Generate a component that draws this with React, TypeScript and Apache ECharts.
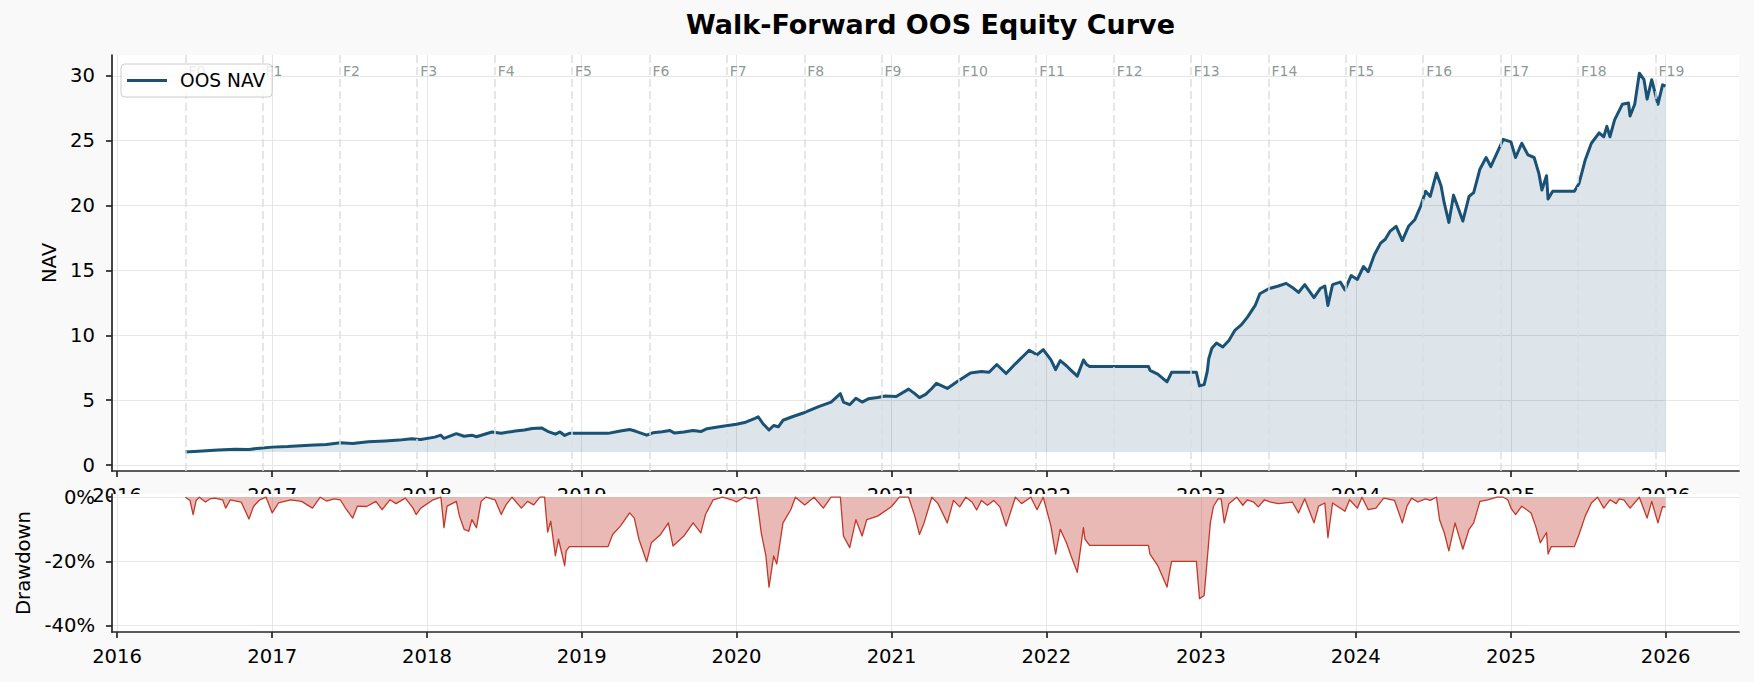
import React, { useEffect, useRef } from "react";
import * as echarts from "echarts";

// ---------------- DATA ----------------
// NAV curve: time in decimal years, value in NAV units
const navYears = [
  2016.44, 2016.55, 2016.65, 2016.76, 2016.85, 2016.92, 2017.0, 2017.1, 2017.24, 2017.35,
  2017.44, 2017.52, 2017.62, 2017.73, 2017.82, 2017.9, 2017.96, 2018.05, 2018.09, 2018.11,
  2018.19, 2018.24, 2018.29, 2018.32, 2018.42, 2018.48, 2018.57, 2018.63, 2018.68, 2018.74,
  2018.78, 2018.83, 2018.86, 2018.89, 2018.92, 2019.17, 2019.25, 2019.31, 2019.35, 2019.42,
  2019.46, 2019.52, 2019.57, 2019.6, 2019.66, 2019.72, 2019.77, 2019.81, 2019.89, 2020.0,
  2020.06, 2020.12, 2020.14, 2020.17, 2020.21, 2020.24, 2020.27, 2020.3, 2020.36, 2020.44,
  2020.53, 2020.61, 2020.67, 2020.69, 2020.73, 2020.77, 2020.81, 2020.85, 2020.91, 2020.96,
  2021.03, 2021.11, 2021.15, 2021.18, 2021.22, 2021.26, 2021.29, 2021.36, 2021.42, 2021.51,
  2021.58, 2021.63, 2021.68, 2021.74, 2021.8, 2021.86, 2021.89, 2021.94, 2021.98, 2022.03,
  2022.06, 2022.09, 2022.13, 2022.16, 2022.2, 2022.24, 2022.26, 2022.28, 2022.66, 2022.67,
  2022.72, 2022.78, 2022.8, 2022.81, 2022.97, 2022.99, 2023.02, 2023.04, 2023.05, 2023.07,
  2023.1, 2023.14, 2023.18, 2023.22, 2023.26, 2023.3, 2023.35, 2023.38, 2023.44, 2023.5,
  2023.55, 2023.6, 2023.63, 2023.67, 2023.73, 2023.77, 2023.8, 2023.82, 2023.85, 2023.9,
  2023.93, 2023.97, 2024.01, 2024.05, 2024.08, 2024.12, 2024.16, 2024.19, 2024.22, 2024.26,
  2024.3, 2024.34, 2024.38, 2024.42, 2024.45, 2024.48, 2024.52, 2024.55, 2024.57, 2024.6,
  2024.63, 2024.66, 2024.69, 2024.73, 2024.76, 2024.8, 2024.84, 2024.87, 2024.92, 2024.95,
  2025.0, 2025.03, 2025.07, 2025.11, 2025.15, 2025.18, 2025.2, 2025.23, 2025.24, 2025.27,
  2025.41, 2025.44, 2025.48, 2025.52, 2025.57, 2025.6, 2025.62, 2025.64, 2025.67, 2025.72,
  2025.76, 2025.77, 2025.8, 2025.83, 2025.86, 2025.88, 2025.91, 2025.95, 2025.98, 2025.999,
];
const navValues = [
  1.0, 1.08, 1.15, 1.22, 1.2, 1.3, 1.38, 1.42, 1.52, 1.58,
  1.72, 1.66, 1.8, 1.86, 1.92, 2.02, 1.96, 2.15, 2.3, 2.05,
  2.42, 2.22, 2.3, 2.18, 2.55, 2.45, 2.62, 2.7, 2.82, 2.86,
  2.6, 2.38, 2.55, 2.28, 2.44, 2.44, 2.62, 2.74, 2.6, 2.3,
  2.48, 2.56, 2.66, 2.46, 2.55, 2.66, 2.58, 2.8, 2.95, 3.15,
  3.3, 3.6, 3.72, 3.2, 2.7, 3.05, 2.95, 3.45, 3.72, 4.05,
  4.5, 4.85, 5.5, 4.85, 4.65, 5.15, 4.85, 5.1, 5.2, 5.32,
  5.28, 5.85, 5.5, 5.2, 5.45, 5.9, 6.3, 5.9, 6.4, 7.1,
  7.2, 7.15, 7.75, 7.05, 7.8, 8.5, 8.85, 8.5, 8.9, 8.1,
  7.35, 8.05, 7.65, 7.3, 6.85, 8.1, 7.75, 7.6, 7.6, 7.3,
  7.0, 6.41, 6.9, 7.15, 7.15, 6.1, 6.2, 7.2, 8.2, 9.0,
  9.4, 9.1, 9.6, 10.4, 10.8, 11.4, 12.3, 13.2, 13.6, 13.8,
  14.0, 13.6, 13.3, 13.9, 12.9, 13.6, 13.8, 12.3, 13.9, 14.1,
  13.5, 14.6, 14.3, 15.3, 14.9, 16.2, 17.1, 17.4, 18.0, 18.4,
  17.3, 18.4, 18.9, 20.0, 21.1, 20.7, 22.5, 21.5, 20.2, 18.7,
  20.8, 19.8, 18.8, 20.7, 21.0, 22.8, 23.7, 23.0, 24.3, 25.1,
  24.9, 23.7, 24.8, 23.9, 23.7, 22.5, 21.2, 22.3, 20.5, 21.1,
  21.1, 21.7, 23.5, 24.8, 25.6, 25.3, 26.1, 25.3, 26.6, 27.8,
  27.9, 26.9, 27.8, 30.2, 29.7, 28.2, 29.7, 27.8, 29.3, 29.2,
];

// Drawdown curve: time in decimal years, value in percent
const ddYears = [
  2016.44, 2016.47, 2016.49, 2016.51, 2016.53, 2016.57, 2016.6, 2016.63, 2016.68, 2016.7,
  2016.73, 2016.8, 2016.85, 2016.88, 2016.92, 2016.96, 2017.0, 2017.04, 2017.12, 2017.19,
  2017.26, 2017.31, 2017.35, 2017.4, 2017.44, 2017.48, 2017.52, 2017.55, 2017.61, 2017.67,
  2017.71, 2017.76, 2017.8, 2017.86, 2017.91, 2017.93, 2017.96, 2018.04, 2018.09, 2018.11,
  2018.13, 2018.19, 2018.21, 2018.24, 2018.27, 2018.29, 2018.32, 2018.35, 2018.38, 2018.44,
  2018.48, 2018.51, 2018.55, 2018.61, 2018.65, 2018.69, 2018.73, 2018.76, 2018.78, 2018.8,
  2018.83, 2018.85, 2018.89, 2018.9, 2018.92, 2019.17, 2019.2, 2019.25, 2019.31, 2019.34,
  2019.37, 2019.42, 2019.45, 2019.51, 2019.56, 2019.59, 2019.66, 2019.72, 2019.77, 2019.8,
  2019.85, 2019.91, 2019.97, 2020.0, 2020.05, 2020.09, 2020.13, 2020.16, 2020.19, 2020.21,
  2020.24, 2020.26, 2020.3, 2020.35, 2020.38, 2020.44, 2020.5, 2020.56, 2020.61, 2020.67,
  2020.69, 2020.73, 2020.77, 2020.81, 2020.84, 2020.91, 2021.0, 2021.05, 2021.11, 2021.15,
  2021.18, 2021.21, 2021.26, 2021.3, 2021.36, 2021.4, 2021.44, 2021.48, 2021.52, 2021.55,
  2021.58, 2021.62, 2021.66, 2021.7, 2021.74, 2021.8, 2021.84, 2021.9, 2021.94, 2021.98,
  2022.03, 2022.06, 2022.09, 2022.13, 2022.16, 2022.2, 2022.24, 2022.25, 2022.28, 2022.66,
  2022.67, 2022.72, 2022.78, 2022.8, 2022.81, 2022.97, 2022.99, 2023.02, 2023.04, 2023.06,
  2023.08, 2023.11, 2023.13, 2023.15, 2023.18, 2023.23, 2023.27, 2023.3, 2023.34, 2023.37,
  2023.41, 2023.45, 2023.5, 2023.59, 2023.63, 2023.67, 2023.73, 2023.76, 2023.8, 2023.82,
  2023.85, 2023.93, 2023.96, 2024.01, 2024.04, 2024.08, 2024.13, 2024.18, 2024.25, 2024.3,
  2024.33, 2024.36, 2024.4, 2024.45, 2024.48, 2024.52, 2024.54, 2024.57, 2024.6, 2024.64,
  2024.69, 2024.73, 2024.76, 2024.8, 2024.85, 2024.91, 2024.95, 2024.98, 2025.0, 2025.03,
  2025.07, 2025.13, 2025.16, 2025.19, 2025.23, 2025.24, 2025.26, 2025.41, 2025.44, 2025.48,
  2025.52, 2025.56, 2025.6, 2025.64, 2025.68, 2025.7, 2025.73, 2025.77, 2025.83, 2025.88,
  2025.91, 2025.95, 2025.98, 2025.999,
];
const ddValues = [
  0, -1, -5.4, -1, 0, -1.5, -0.5, -0.3, -0.8, -3.4,
  -0.8, -1.5, -6.8, -2.8, -0.8, 0, -4.9, -1.8, -0.8, -1.3,
  -3.4, 0, -1.2, -0.5, -0.8, -3.9, -6.5, -2.8, -2.9, -1.3,
  -3.9, -0.8, -2.0, -0.3, -3.4, -5.4, -3.4, -0.8, 0, -9.5,
  -2.8, -1.3, -5.9, -10, -10.6, -7, -9.5, -1.3, 0, -0.8,
  -5.4, -2.4, 0, -3.4, -1.3, -2.4, 0, 0, -10.9, -7.5,
  -18.3, -13.1, -21.3, -16.7, -15.4, -15.4, -11.6, -9.0, -4.9, -6.5,
  -13.1, -20.1, -14.2, -11.6, -8.0, -15.2, -12.1, -8.0, -11.1, -5.4,
  -0.8, 0, -0.8, -1.5, 0, -0.5, 0, -11.1, -18.3, -28,
  -18.3, -20.8, -8.0, -3.9, 0, -2.4, 0, -3.4, 0, 0,
  -12.1, -15.7, -7.0, -12.1, -7.0, -5.9, -2.9, 0, 0, -5.9,
  -11.6, -8, 0, -2, -8, -1, -3, 0, -1.5, -4,
  -1, -2.5, -1, -3, -9, 0, -2, 0, -3.9, 0,
  -9, -17.7, -10, -14.2, -18.3, -23.4, -9.5, -13.1, -15, -15,
  -17.7, -21.3, -28, -22.4, -20, -20, -31.6, -30.6, -19.3, -8,
  -2.9, -0.5, -0.5, -8, -2, 0, -2.5, -0.8, -1.5, -3,
  -0.8, -1.5, -2, -1.5, -4.9, -0.5, -8, -2.8, -1.8, -12.6,
  -1.8, -4.4, -0.8, -3.4, 0, -3.9, -3.4, -0.3, -1, -8,
  -2.8, -0.3, -1.5, -0.5, -1, 0, -7, -11, -16.7, -8,
  -16.2, -10, -8, -1.3, -0.8, 0, 0, -0.8, -3.4, -5.4,
  -2.8, -4.9, -9, -14.2, -11, -17.7, -15.4, -15.4, -11.6, -5.9,
  -1.8, 0, -3.4, -0.8, -2, -0.5, -0.8, -3.4, 0, -6.5,
  -1.3, -8, -2.9, -3.1,
];

// Walk-forward fold start dates and their labels
const foldDates = [
  "2016-06-10", "2016-12-09", "2017-06-10", "2017-12-09", "2018-06-10",
  "2018-12-09", "2019-06-10", "2019-12-09", "2020-06-09", "2020-12-08",
  "2021-06-09", "2021-12-08", "2022-06-09", "2022-12-08", "2023-06-09",
  "2023-12-08", "2024-06-08", "2024-12-07", "2025-06-08", "2025-12-08",
];
const foldLabels = [
  "F0", "F1", "F2", "F3", "F4", "F5", "F6", "F7", "F8", "F9",
  "F10", "F11", "F12", "F13", "F14", "F15", "F16", "F17", "F18", "F19",
];

// Tick labels
const yearTicks = [2016, 2017, 2018, 2019, 2020, 2021, 2022, 2023, 2024, 2025, 2026];
const navTicks = [0, 5, 10, 15, 20, 25, 30];
const ddTicks = [-40, -20, 0];

const TITLE = "Walk-Forward OOS Equity Curve";
const SERIES_NAME = "OOS NAV";

// ---------------- HELPERS ----------------
const decYearToTs = (d: number) => {
  const y = Math.floor(d);
  const a = Date.UTC(y, 0, 1);
  const b = Date.UTC(y + 1, 0, 1);
  return a + (d - y) * (b - a);
};
const dateToTs = (s: string) => Date.parse(s + "T00:00:00Z");

const FONT = "DejaVu Sans";
const W = 1754;
const H = 682;
const LEFT = 112;
const PLOT_W = 1627;
const TOP1 = 55;
const H1 = 416;
const TOP2 = 494;
const H2 = 138;
const X_MIN = Date.UTC(2015, 11, 20);
const X_MAX = Date.UTC(2026, 5, 23);
const FILL_BASE = 1;
const FOLD_LABEL_Y = 30.4;

export default function App() {
  const ref = useRef<HTMLDivElement | null>(null);

  useEffect(() => {
    if (!ref.current) return;
    const chart = echarts.init(ref.current, null, { renderer: "svg" });

    const yearTs = yearTicks.map((y) => Date.UTC(y, 0, 1));
    const foldTs = foldDates.map(dateToTs);
    const navData = navYears.map((y, i) => [decYearToTs(y), navValues[i]]);
    const ddData = ddYears.map((y, i) => [decYearToTs(y), ddValues[i]]);

    const spine = { color: "#262626", width: 1.7 };
    const labelFont = { fontFamily: FONT, fontSize: 19.6, color: "#000" };
    const gridLine = { show: true, lineStyle: { color: "#e6e6e6", width: 1 } };

    const xAxisOf = (gridIndex: number, z: number) => ({
      type: "value",
      gridIndex,
      min: X_MIN,
      max: X_MAX,
      z,
      axisLine: { show: true, onZero: false, lineStyle: spine },
      axisTick: { show: true, length: 6, lineStyle: spine, customValues: yearTs },
      axisLabel: {
        show: true,
        margin: 14,
        ...labelFont,
        customValues: yearTs,
        hideOverlap: false,
        showMinLabel: true,
        showMaxLabel: true,
        formatter: (v: number) => String(new Date(v).getUTCFullYear()),
      },
      splitLine: gridLine,
      minorTick: { show: false },
      minorSplitLine: { show: false },
    });

    const option: any = {
      animation: false,
      backgroundColor: "#f9f9f9",
      title: {
        text: TITLE,
        left: LEFT + PLOT_W / 2,
        top: 6,
        textAlign: "center",
        z: 6,
        textStyle: { fontFamily: FONT, fontSize: 27, fontWeight: "bold", color: "#000" },
      },
      legend: {
        data: [{ name: SERIES_NAME, icon: "rect" }],
        left: 121,
        top: 64,
        z: 6,
        padding: [7, 7, 7, 6],
        itemWidth: 40,
        itemHeight: 3,
        borderColor: "#cccccc",
        borderWidth: 1,
        borderRadius: 4,
        backgroundColor: "rgba(255,255,255,0.8)",
        textStyle: { fontFamily: FONT, fontSize: 18.6, color: "#000", padding: [0, 0, 0, 8] },
        selectedMode: false,
      },
      grid: [
        {
          left: LEFT, top: TOP1, width: PLOT_W, height: H1,
          show: true, backgroundColor: "#ffffff", borderWidth: 0, z: 0,
          containLabel: false, outerBoundsMode: "none",
        },
        {
          left: LEFT, top: TOP2, width: PLOT_W, height: H2,
          show: false, z: 0, containLabel: false, outerBoundsMode: "none",
        },
      ],
      graphic: [
        {
          type: "rect",
          z: 2,
          silent: true,
          shape: { x: LEFT, y: TOP2, width: PLOT_W, height: H2 },
          style: { fill: "#ffffff" },
        },
      ],
      xAxis: [xAxisOf(0, 1), xAxisOf(1, 3)],
      yAxis: [
        {
          type: "value",
          gridIndex: 0,
          min: -0.46,
          max: 31.6,
          z: 1,
          name: "NAV",
          nameLocation: "middle",
          nameGap: 47,
          nameTextStyle: { ...labelFont },
          axisLine: { show: true, lineStyle: spine },
          axisTick: { show: true, length: 6, lineStyle: spine, customValues: navTicks },
          axisLabel: { show: true, margin: 17, ...labelFont, customValues: navTicks },
          splitLine: gridLine,
        },
        {
          type: "value",
          gridIndex: 1,
          min: -42,
          max: 1,
          z: 3,
          name: "Drawdown",
          nameLocation: "middle",
          nameGap: 73,
          nameTextStyle: { ...labelFont },
          axisLine: { show: true, lineStyle: spine },
          axisTick: { show: true, length: 6, lineStyle: spine, customValues: ddTicks },
          axisLabel: {
            show: true,
            margin: 17,
            ...labelFont,
            customValues: ddTicks,
            formatter: (v: number) => v + "%",
          },
          splitLine: gridLine,
        },
      ],
      series: [
        {
          name: SERIES_NAME,
          type: "line",
          xAxisIndex: 0,
          yAxisIndex: 0,
          z: 4,
          data: navData,
          showSymbol: false,
          symbol: "none",
          itemStyle: { color: "#1a5276" },
          lineStyle: { color: "#1a5276", width: 3, join: "round" },
          areaStyle: { color: "rgba(26,82,118,0.15)", opacity: 1, origin: FILL_BASE },
          markLine: {
            silent: true,
            symbol: ["none", "none"],
            label: { show: false },
            lineStyle: { color: "#dadfdf", type: [8, 4], width: 1.5, opacity: 1 },
            data: foldTs.map((t) => ({ xAxis: t })),
          },
        },
        {
          name: "folds",
          type: "scatter",
          xAxisIndex: 0,
          yAxisIndex: 0,
          z: 5,
          silent: true,
          symbolSize: 0,
          data: foldTs.map((t, i) => ({ name: foldLabels[i], value: [t, FOLD_LABEL_Y] })),
          label: {
            show: true,
            position: "right",
            distance: 3,
            formatter: "{b}",
            fontFamily: FONT,
            fontSize: 14,
            color: "#6f7c7d",
          },
        },
        {
          name: "Drawdown",
          type: "line",
          xAxisIndex: 1,
          yAxisIndex: 1,
          z: 4,
          data: ddData,
          showSymbol: false,
          symbol: "none",
          itemStyle: { color: "#c0392b" },
          lineStyle: { color: "#c0392b", width: 1.3, join: "round" },
          areaStyle: { color: "rgba(192,57,43,0.35)", opacity: 1, origin: 0 },
        },
      ],
    };

    chart.setOption(option);
    return () => chart.dispose();
  }, []);

  return (
    <div
      ref={ref}
      style={{ position: "fixed", left: 0, top: 0, width: W, height: H }}
    />
  );
}
